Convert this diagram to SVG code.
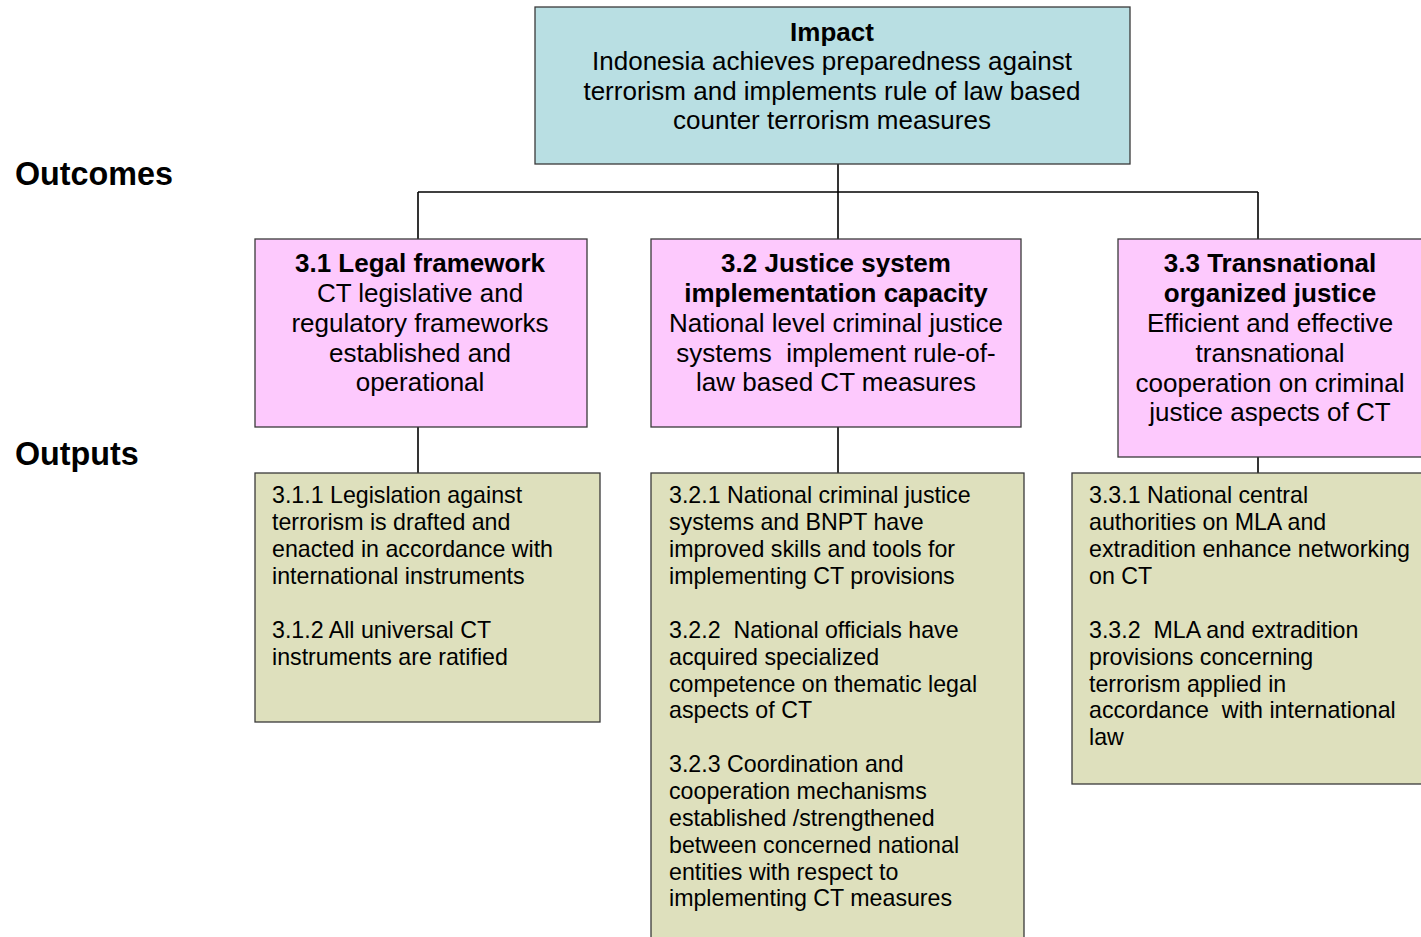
<svg xmlns="http://www.w3.org/2000/svg" width="1421" height="937" viewBox="0 0 1421 937">
  <style>
    .box { stroke: #3a3a3a; stroke-width: 1.3; }
    .impact { fill: #b9dfe3; }
    .outcome { fill: #fdc9fd; }
    .output { fill: #dee0bd; }
    .conn { stroke: #000; stroke-width: 1.6; fill: none; }
    text { font-family: "Liberation Sans", Arial, sans-serif; fill: #000; }
    .c24 { font-size: 26px; text-anchor: middle; }
    .b { font-weight: bold; }
    .t20 { font-size: 23.2px; }
    .lbl { font-size: 32.3px; font-weight: bold; }
  </style>

  <!-- level labels -->
  <text class="lbl" x="15" y="185">Outcomes</text>
  <text class="lbl" x="15" y="465">Outputs</text>

  <!-- connectors -->
  <g id="connectors">
    <path class="conn" d="M838 164 V239"/>
    <path class="conn" d="M418 192 H1258"/>
    <path class="conn" d="M418 192 V239"/>
    <path class="conn" d="M1258 192 V239"/>
    <path class="conn" d="M418 427 V473"/>
    <path class="conn" d="M838 427 V473"/>
    <path class="conn" d="M1258 457 V473"/>
  </g>

  <!-- impact -->
  <g id="impact">
    <rect class="box impact" x="535" y="7" width="595" height="157"/>
    <text class="c24 b" x="832" y="41">Impact</text>
    <text class="c24" x="832" y="70">Indonesia achieves preparedness against</text>
    <text class="c24" x="832" y="100">terrorism and implements rule of law based</text>
    <text class="c24" x="832" y="129">counter terrorism measures</text>
  </g>

  <!-- outcome 3.1 -->
  <g id="outcome-3-1">
    <rect class="box outcome" x="255" y="239" width="332" height="188"/>
    <text class="c24 b" x="420" y="272">3.1 Legal framework</text>
    <text class="c24" x="420" y="302">CT legislative and</text>
    <text class="c24" x="420" y="332">regulatory frameworks</text>
    <text class="c24" x="420" y="362">established and</text>
    <text class="c24" x="420" y="391">operational</text>
  </g>

  <!-- outcome 3.2 -->
  <g id="outcome-3-2">
    <rect class="box outcome" x="651" y="239" width="370" height="188"/>
    <text class="c24 b" x="836" y="272">3.2 Justice system</text>
    <text class="c24 b" x="836" y="302">implementation capacity</text>
    <text class="c24" x="836" y="332">National level criminal justice</text>
    <text class="c24" x="836" y="362" xml:space="preserve">systems  implement rule-of-</text>
    <text class="c24" x="836" y="391">law based CT measures</text>
  </g>

  <!-- outcome 3.3 -->
  <g id="outcome-3-3">
    <rect class="box outcome" x="1118" y="239" width="310" height="218"/>
    <text class="c24 b" x="1270" y="272">3.3 Transnational</text>
    <text class="c24 b" x="1270" y="302">organized justice</text>
    <text class="c24" x="1270" y="332">Efficient and effective</text>
    <text class="c24" x="1270" y="362">transnational</text>
    <text class="c24" x="1270" y="392">cooperation on criminal</text>
    <text class="c24" x="1270" y="421">justice aspects of CT</text>
  </g>

  <!-- outputs 3.1 -->
  <g id="outputs-3-1">
    <rect class="box output" x="255" y="473" width="345" height="249"/>
    <text class="t20" x="272" y="503">3.1.1 Legislation against</text>
    <text class="t20" x="272" y="530">terrorism is drafted and</text>
    <text class="t20" x="272" y="557">enacted in accordance with</text>
    <text class="t20" x="272" y="584">international instruments</text>
    <text class="t20" x="272" y="638">3.1.2 All universal CT</text>
    <text class="t20" x="272" y="665">instruments are ratified</text>
  </g>

  <!-- outputs 3.2 -->
  <g id="outputs-3-2">
    <rect class="box output" x="651" y="473" width="373" height="480"/>
    <text class="t20" x="669" y="503">3.2.1 National criminal justice</text>
    <text class="t20" x="669" y="530">systems and BNPT have</text>
    <text class="t20" x="669" y="557">improved skills and tools for</text>
    <text class="t20" x="669" y="584">implementing CT provisions</text>
    <text class="t20" x="669" y="638" xml:space="preserve">3.2.2  National officials have</text>
    <text class="t20" x="669" y="665">acquired specialized</text>
    <text class="t20" x="669" y="692">competence on thematic legal</text>
    <text class="t20" x="669" y="718">aspects of CT</text>
    <text class="t20" x="669" y="772">3.2.3 Coordination and</text>
    <text class="t20" x="669" y="799">cooperation mechanisms</text>
    <text class="t20" x="669" y="826">established /strengthened</text>
    <text class="t20" x="669" y="853">between concerned national</text>
    <text class="t20" x="669" y="880">entities with respect to</text>
    <text class="t20" x="669" y="906">implementing CT measures</text>
  </g>

  <!-- outputs 3.3 -->
  <g id="outputs-3-3">
    <rect class="box output" x="1072" y="473" width="360" height="311"/>
    <text class="t20" x="1089" y="503">3.3.1 National central</text>
    <text class="t20" x="1089" y="530">authorities on MLA and</text>
    <text class="t20" x="1089" y="557">extradition enhance networking</text>
    <text class="t20" x="1089" y="584">on CT</text>
    <text class="t20" x="1089" y="638" xml:space="preserve">3.3.2  MLA and extradition</text>
    <text class="t20" x="1089" y="665">provisions concerning</text>
    <text class="t20" x="1089" y="692">terrorism applied in</text>
    <text class="t20" x="1089" y="718" xml:space="preserve">accordance  with international</text>
    <text class="t20" x="1089" y="745">law</text>
  </g>
</svg>
